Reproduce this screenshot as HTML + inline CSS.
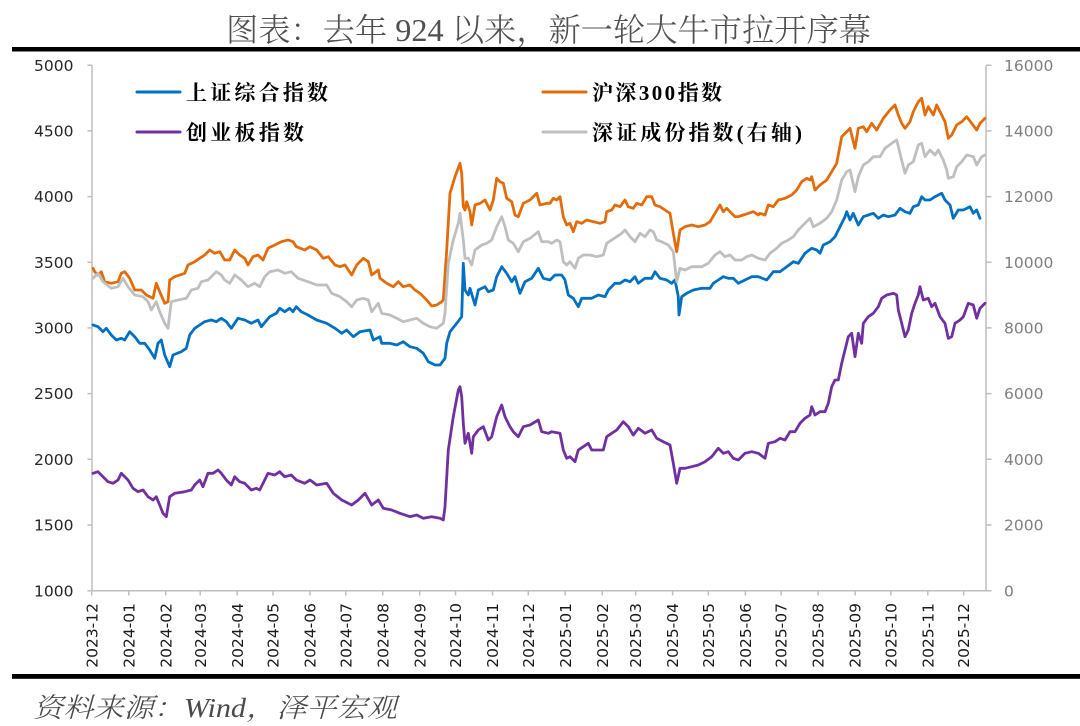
<!DOCTYPE html>
<html><head><meta charset="utf-8"><style>
html,body{margin:0;padding:0;background:#fff;}
svg{display:block;}
</style></head><body>
<svg width="1080" height="726" viewBox="0 0 1080 726" xmlns="http://www.w3.org/2000/svg">
<rect width="1080" height="726" fill="#fff"/>
<text x="226" y="41" font-family="'Liberation Serif','Noto Serif CJK SC',serif" font-size="32" font-weight="300" fill="#505050" textLength="645" lengthAdjust="spacingAndGlyphs">图表：去年 924 以来，新一轮大牛市拉开序幕</text>
<rect x="12" y="47" width="1068" height="4.5" fill="#000"/>
<rect x="12" y="674" width="1068" height="4.8" fill="#000"/>
<text x="33" y="717" font-family="'Liberation Serif','Noto Serif CJK SC',serif" font-size="27" font-style="italic" font-weight="300" fill="#4a4a4a" textLength="364" lengthAdjust="spacingAndGlyphs">资料来源：Wind，泽平宏观</text>

<g stroke="#BFBFBF" stroke-width="1.5" fill="none">
<line x1="92" y1="65.2" x2="92" y2="591"/>
<line x1="986" y1="65.2" x2="986" y2="591"/>
<line x1="91.3" y1="590.7" x2="986.7" y2="590.7"/>
<path d="M87.5 65.2H92M87.5 130.9H92M87.5 196.6H92M87.5 262.3H92M87.5 327.9H92M87.5 393.6H92M87.5 459.3H92M87.5 525H92M87.5 590.7H92"/>
<path d="M986 65.2H991.5M986 130.9H991.5M986 196.6H991.5M986 262.3H991.5M986 327.9H991.5M986 393.6H991.5M986 459.3H991.5M986 525H991.5M986 590.7H991.5"/>
<path d="M91.7 590.7V595.5M128.7 590.7V595.5M165.7 590.7V595.5M200.2 590.7V595.5M237.2 590.7V595.5M273 590.7V595.5M310 590.7V595.5M345.8 590.7V595.5M382.7 590.7V595.5M419.7 590.7V595.5M455.5 590.7V595.5M492.5 590.7V595.5M528.3 590.7V595.5M565.2 590.7V595.5M602.2 590.7V595.5M635.6 590.7V595.5M672.6 590.7V595.5M708.4 590.7V595.5M745.4 590.7V595.5M781.1 590.7V595.5M818.1 590.7V595.5M855.1 590.7V595.5M890.9 590.7V595.5M927.8 590.7V595.5M963.6 590.7V595.5"/>
</g>

<g font-family="'DejaVu Sans',sans-serif" font-size="15.5" fill="#262626" text-anchor="end">
<text x="73.5" y="70.8">5000</text>
<text x="73.5" y="136.5">4500</text>
<text x="73.5" y="202.2">4000</text>
<text x="73.5" y="267.9">3500</text>
<text x="73.5" y="333.5">3000</text>
<text x="73.5" y="399.2">2500</text>
<text x="73.5" y="464.9">2000</text>
<text x="73.5" y="530.6">1500</text>
<text x="73.5" y="596.3">1000</text>
</g>
<g font-family="'DejaVu Sans',sans-serif" font-size="15.5" fill="#7F7F7F">
<text x="1004" y="70.8">16000</text>
<text x="1004" y="136.5">14000</text>
<text x="1004" y="202.2">12000</text>
<text x="1004" y="267.9">10000</text>
<text x="1004" y="333.5">8000</text>
<text x="1004" y="399.2">6000</text>
<text x="1004" y="464.9">4000</text>
<text x="1004" y="530.6">2000</text>
<text x="1004" y="596.3">0</text>
</g>
<g font-family="'DejaVu Sans',sans-serif" font-size="15.5" fill="#1a1a1a" text-anchor="end">
<text transform="translate(97.3,603) rotate(-90)">2023-12</text>
<text transform="translate(134.3,603) rotate(-90)">2024-01</text>
<text transform="translate(171.3,603) rotate(-90)">2024-02</text>
<text transform="translate(205.8,603) rotate(-90)">2024-03</text>
<text transform="translate(242.8,603) rotate(-90)">2024-04</text>
<text transform="translate(278.6,603) rotate(-90)">2024-05</text>
<text transform="translate(315.6,603) rotate(-90)">2024-06</text>
<text transform="translate(351.4,603) rotate(-90)">2024-07</text>
<text transform="translate(388.3,603) rotate(-90)">2024-08</text>
<text transform="translate(425.3,603) rotate(-90)">2024-09</text>
<text transform="translate(461.1,603) rotate(-90)">2024-10</text>
<text transform="translate(498.1,603) rotate(-90)">2024-11</text>
<text transform="translate(533.9,603) rotate(-90)">2024-12</text>
<text transform="translate(570.8,603) rotate(-90)">2025-01</text>
<text transform="translate(607.8,603) rotate(-90)">2025-02</text>
<text transform="translate(641.2,603) rotate(-90)">2025-03</text>
<text transform="translate(678.2,603) rotate(-90)">2025-04</text>
<text transform="translate(714,603) rotate(-90)">2025-05</text>
<text transform="translate(751,603) rotate(-90)">2025-06</text>
<text transform="translate(786.7,603) rotate(-90)">2025-07</text>
<text transform="translate(823.7,603) rotate(-90)">2025-08</text>
<text transform="translate(860.7,603) rotate(-90)">2025-09</text>
<text transform="translate(896.5,603) rotate(-90)">2025-10</text>
<text transform="translate(933.4,603) rotate(-90)">2025-11</text>
<text transform="translate(969.2,603) rotate(-90)">2025-12</text>
</g>

<g fill="none" stroke-width="2.8" stroke-linejoin="round" stroke-linecap="round">
<polyline stroke="#0070C0" points="93,325 98,326.7 103,331.7 106.3,328.3 111.3,335 116.3,340 121.3,338.3 124.7,340 129.7,331.7 134.7,336.7 139.7,343.3 144.7,343.3 149.7,350 154.7,358.3 158,343.3 161.3,340 164.7,355 169.7,366.7 173,355 181.3,351.7 186.3,348.3 189.7,335 194.7,328.3 199.7,325 204.7,321.7 211.3,320 216.3,321.7 221.3,318.3 226.3,321.7 231.3,328.3 238,318.3 244.7,320 251.3,323.3 258,320 261.3,326.7 269.7,316.7 276.3,313.3 279.7,308.3 284.7,311.7 289.7,308.3 293,311.7 296.3,306.7 301.3,311.7 308,315 316.7,320 326.7,323.3 335,328.3 341.7,333.3 346.7,330 353.3,336.7 360,331.7 370,330 373.3,340 380,336.7 381.7,343.3 390,343.3 396.7,345 403.3,341.7 410,346.7 416.7,348.3 423.3,353.3 428.3,361.7 435,365 440,365 445,358.3 446.7,343.3 450,331.7 456.7,323.3 461.7,316.7 463.3,263.3 465,290 468.3,295 470,288.3 475,305 478.3,290 485,286.7 488.3,291.7 493.3,290 496.7,276.7 501.7,266.7 506.7,273.3 511.7,281.7 515,276.7 520,293.3 525,281.7 531.7,278.3 538.3,268.3 543.3,278.3 550,280 555,275 561.7,275 565,280 568.3,295 573.3,298.3 578.3,306.7 581.7,298.3 586.7,298.3 591.7,298.3 598.3,295 605,296.7 608.3,290 615,283.3 620,283.3 625,280 630,281.7 635,276.7 638.3,283.3 645,278.3 651.7,278.3 655,271.7 660,278.3 666.7,280 671.7,283.3 675,280 678.3,296.7 679,315 681.7,296.7 686.7,293.3 693.3,290 701.7,288.3 710,288.3 713.3,283.3 718.3,280 723.3,276.7 728.3,278.3 733.3,278.3 738.3,283.3 745,280 751.7,276.7 758.3,276.7 766.7,280 773.3,271.7 780,271.7 786.7,266.7 793.3,261.7 798.3,263.3 805,253.3 811.7,248.3 816.7,250 820,253.3 823.3,245 830,241.7 835,236.7 840,226.7 845,216.7 846.7,211.7 850,220 853.3,213.3 858.3,225 863.3,216.7 868.3,215 873.3,213.3 878.3,218.3 883.3,215 888.3,216.7 895,215 900,208.3 905,211.7 910,213.3 913.3,206.7 918.3,205 921.7,196.7 925,200 930,200 935,196.7 941.7,193.3 945,200 950,205 953.3,218.3 958.3,210 963.3,210 970,206.7 973.3,213.3 976.7,210 980,218.3"/>
<polyline stroke="#E36C0A" points="93,268.3 94.7,271.7 98,275 101.3,271.7 104.7,281.7 111.3,283.3 118,281.7 121.3,273.3 124.7,271.7 129.7,278.3 134.7,290 141.3,290 146.3,295 153,298.3 156.3,283.3 159.7,291.7 164.7,303.3 168,301.7 169.7,280 174.7,276.7 184.7,273.3 188,265 194.7,261.7 199.7,258.3 204.7,255 209.7,250 214.7,253.3 219.7,251.7 224.7,260 229.7,260 234.7,250 239.7,255 244.7,258.3 248,265 253,256.7 258,255 263,260 268,248.3 274.7,245 281.3,241.7 288,240 293,241.7 296.3,246.7 304.7,250 310,246.7 316.7,250 323.3,258.3 328.3,256.7 335,265 340,266.7 345,265 351.7,275 356.7,265 363.3,258.3 368.3,261.7 371.7,275 378.3,270 380,278.3 386.7,283.3 393.3,286.7 398.3,281.7 403.3,286.7 410,285 415,290 420,293.3 426.7,300 431.7,306 436.7,305 441.7,301.7 443.3,300 446.7,250 450,193.3 455,176.7 460,163.3 461.7,173.3 463.3,206.7 465,210 466.7,201.7 470,211.7 471.7,225 475,205 480,203.3 485,200 490,210 493.3,200 496.7,178.3 500,181.7 503.3,183.3 506.7,198.3 511.7,201.7 515,215 518.3,216.7 523.3,203.3 530,200 536.7,193.3 540,205 546.7,203.3 550,203.3 553.3,198.3 556.7,200 560,196.7 563.3,216.7 566.7,225 570,223.3 573.3,231.7 576.7,221.7 581.7,223.3 586.7,220 593.3,221.7 600,223.3 605,221.7 606.7,211.7 611.7,210 615,205 620,206.7 625,200 628.3,206.7 633.3,208.3 636.7,203.3 641.7,205 646.7,196.7 651.7,196.7 655,205 660,206.7 665,210 670,213.3 673.3,233.3 676.7,251.7 680,230 685,226.7 691.7,225 698.3,226.7 705,225 710,221.7 715,213.3 720,205 723.3,211.7 726.7,208.3 730,211.7 735,216.7 738.3,216.7 743.3,215 748.3,213.3 753.3,211.7 758.3,215 760,213.3 765,215 768.3,205 773.3,206.7 778.3,200 785,198.3 791.7,195 796.7,190 801.7,181.7 806.7,178.3 810,180 811.7,176.7 815,190 820,185 826.7,180 831.7,171.7 836.7,163.3 841.7,136.7 846.7,131.7 850,128.3 855,148.3 858.3,128.3 863.3,126.7 866.7,131.7 871.7,123.3 876.7,130 883.3,118.3 890,110 895,105 898.3,115 901.7,123.3 905,128.3 910,121.7 913.3,111.7 918.3,101.7 921.7,98.3 925,115 928.3,106.7 933.3,115 936.7,105 941.7,115 945,121.7 948.3,138.3 951.7,135 956.7,125 961.7,121.7 966.7,116.7 971.7,123.3 976.7,130 980,123.3 985,118.3"/>
<polyline stroke="#7030A0" points="93,473.3 98,471.7 103,476.7 108,481.7 113,483.3 118,480 121.3,473.3 128,480 133,488.3 138,491.7 143,490 148,496.7 153,500 156.3,496.7 159.7,505 163,513.3 166.3,516.7 169.7,496.7 174.7,493.3 184.7,491.7 191.3,490 194.7,485 199.7,480 203,486.7 208,473.3 213,473.3 218,470 221.3,473.3 226.3,480 231.3,485 234.7,476.7 239.7,481.7 244.7,483.3 251.3,490 256.3,488.3 259.7,490 264.7,480 268,473.3 274.7,475 279.7,471.7 284.7,476.7 291.3,475 296.3,480 304.7,483.3 310,480 316.7,485 326.7,483.3 333.3,493.3 341.7,500 351.7,505 358.3,500 365,493.3 371.7,505 378.3,500 383.3,508.3 391.7,510 400,513.3 410,516.7 416.7,515 423.3,518.3 431.7,516.7 440,518.3 443.3,520 445,506.7 448.3,450 453.3,416.7 458.3,390 460,386.7 461.7,396.7 463.3,423.3 465,443.3 468.3,433.3 471.7,453.3 473.3,436.7 478.3,430 483.3,426.7 488.3,440 491.7,436.7 496.7,416.7 501.7,405 505,416.7 510,426.7 513.3,431.7 518.3,436.7 523.3,426.7 530,425 538.3,420 541.7,431.7 548.3,433.3 551.7,431.7 560,433.3 563.3,450 566.7,458.3 570,456.7 575,461.7 578.3,450 583.3,446.7 588.3,443.3 591.7,450 596.7,450 603.3,450 606.7,436.7 611.7,433.3 616.7,430 623.3,421.7 628.3,426.7 633.3,435 638.3,428.3 645,433.3 651.7,430 656.7,438.3 663.3,441.7 670,445 673.3,463.3 676.7,483.3 680,468.3 685,468.3 691.7,466.7 698.3,465 705,461.7 711.7,456.7 718.3,448.3 723.3,453.3 728.3,451.7 733.3,458.3 738.3,460 745,453.3 751.7,451.7 758.3,453.3 765,458.3 768.3,443.3 775,441.7 780,438.3 785,440 790,431.7 795,431.7 800,423.3 805,418.3 810,415 811.7,406.7 815,415 820,411.7 825,411.7 828.3,403.3 831.7,386.7 835,380 838.3,380 841.7,363.3 845,350 848.3,336.7 851.7,333.3 855,356.7 858.3,333.3 861.7,343.3 863.3,323.3 868.3,316.7 873.3,313.3 878.3,306.7 881.7,298.3 886.7,295 893.3,293.3 896.7,295 898.3,310 901.7,323.3 905,336.7 908.3,330 911.7,313.3 915,303.3 918.3,295 920,286.7 923.3,300 928.3,298.3 931.7,306.7 935,303.3 940,316.7 945,323.3 948.3,338.3 951.7,336.7 955,323.3 960,320 963.3,316.7 968.3,303.3 973.3,305 976.7,318.3 980,308.3 985,303.3"/>
<polyline stroke="#BFBFBF" points="93,278.3 98,273.3 103,281.7 111.3,288.3 118,286.7 123,278.3 128,286.7 134.7,295 143,296.7 148,301.7 151.3,310 156.3,301.7 159.7,311.7 164.7,323.3 168,328.3 171.3,301.7 178,300 186.3,298.3 191.3,290 198,288.3 201.3,281.7 208,280 216.3,271.7 221.3,275 224.7,280 229.7,283.3 234.7,275 241.3,280 248,286.7 254.7,283.3 259.7,286.7 264.7,276.7 269.7,271.7 278,270 284.7,273.3 291.3,271.7 298,278.3 308,281.7 316.7,285 326.7,285 331.7,293.3 340,296.7 346.7,301.7 351.7,306.7 356.7,300 363.3,298.3 368.3,300 371.7,311.7 378.3,303.3 381.7,313.3 390,315 396.7,318.3 403.3,321.7 410,320 416.7,318.3 423.3,323.3 430,326.7 436.7,328.3 443.3,323.3 445,313.3 448.3,263.3 453.3,240 458.3,223.3 460,213.3 463.3,240 465,258.3 468.3,258.3 471.7,265 475,250 481.7,245 486.7,243.3 491.7,240 496.7,226.7 501.7,216.7 505,226.7 508.3,240 513.3,243.3 518.3,251.7 523.3,241.7 530,238.3 538.3,231.7 541.7,241.7 548.3,241.7 551.7,243.3 556.7,240 560,241.7 563.3,261.7 566.7,265 570,261.7 575,268.3 578.3,258.3 583.3,255 590,255 596.7,256.7 603.3,255 606.7,243.3 611.7,240 616.7,236.7 621.7,233.3 625,230 630,236.7 635,241.7 640,233.3 645,236.7 650,230 653.3,231.7 656.7,240 661.7,241.7 668.3,245 673.3,251.7 676.7,281.7 680,268.3 685,270 691.7,266.7 701.7,266.7 708.3,263.3 715,255 720,251.7 725,256.7 730,255 735,260 741.7,260 746.7,256.7 751.7,255 758.3,258.3 765,260 770,253.3 776.7,248.3 781.7,243.3 788.3,240 793.3,236.7 798.3,230 805,223.3 810,218.3 813.3,226.7 820,223.3 826.7,218.3 831.7,211.7 836.7,200 841.7,180 846.7,171.7 850,170 855,191.7 858.3,176.7 863.3,165 868.3,161.7 873.3,156.7 880,156.7 885,148.3 891.7,143.3 896.7,140 900,153.3 905,173.3 908.3,165 913.3,161.7 918.3,145 921.7,143.3 925,156.7 930,150 935,155 938.3,150 943.3,160 946.7,170 948.3,178.3 953.3,176.7 956.7,166.7 961.7,161.7 966.7,155 973.3,156.7 976.7,165 981.7,156.7 985,155"/>
</g>

<g stroke-width="3" stroke-linecap="round">
<line x1="137" y1="92" x2="180" y2="92" stroke="#0070C0"/>
<line x1="137" y1="132" x2="180" y2="132" stroke="#7030A0"/>
<line x1="543" y1="92" x2="586" y2="92" stroke="#E36C0A"/>
<line x1="543" y1="132" x2="586" y2="132" stroke="#BFBFBF"/>
</g>
<g font-family="'Liberation Serif','Noto Serif CJK SC',serif" font-size="21" font-weight="700" fill="#000">
<text x="186" y="100" textLength="142" lengthAdjust="spacing">上证综合指数</text>
<text x="186" y="140" textLength="118" lengthAdjust="spacing">创业板指数</text>
<text x="592" y="100" textLength="130" lengthAdjust="spacing">沪深300指数</text>
<text x="592" y="140" textLength="210" lengthAdjust="spacing">深证成份指数(右轴)</text>
</g>
</svg>
</body></html>
